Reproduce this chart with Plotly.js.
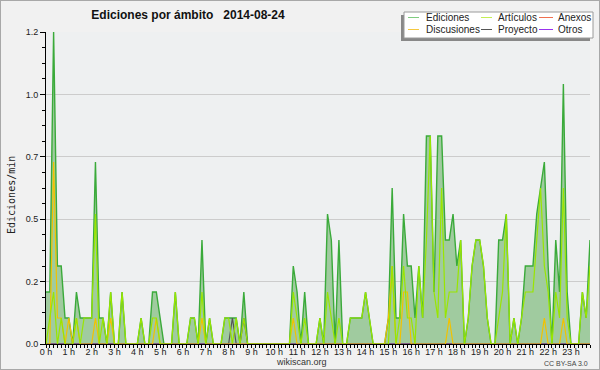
<!DOCTYPE html>
<html><head><meta charset="utf-8">
<script src="https://cdn.plot.ly/plotly-3.0.1.min.js"></script>
<style>
body{margin:0;background:#f1f1f1}
#wrap{position:relative;width:600px;height:370px}
#chart{width:600px;height:370px}
#frame{position:absolute;left:0;top:0;width:600px;height:370px;box-sizing:border-box;border:1px solid #a8a8a8;pointer-events:none}
</style>
</head><body><div id="wrap"><div id="chart"></div><div id="frame"></div></div>
<script>
// 10-minute bins (144 per day), edits per minute
const ediciones = [
 0.2,0.2,1.2,0.3,0.3,0.1,0.1,0,0.2,0.1,0.1,0.1,
 0.1,0.7,0.1,0.1,0,0.2,0,0,0.2,0,0,0,
 0,0.1,0,0,0.2,0.2,0.1,0,0,0,0.2,0,
 0,0,0.1,0.1,0,0.4,0,0.1,0,0,0,0.1,
 0.1,0.1,0.1,0,0.2,0,0,0,0,0,0,0,
 0,0,0,0,0,0.3,0.2,0,0.2,0,0,0,
 0.1,0,0.5,0.4,0,0.4,0,0,0.1,0.1,0.1,0.1,
 0.2,0.1,0,0,0,0,0.1,0.6,0.1,0.1,0.5,0.3,
 0.3,0.1,0.3,0.1,0.8,0.8,0.2,0.8,0.8,0.4,0.4,0.5,
 0.3,0.4,0,0.1,0.3,0.4,0.4,0.3,0.1,0,0,0.4,
 0.4,0.5,0,0.1,0,0.1,0.3,0.3,0.3,0.5,0.6,0.7,
 0.3,0,0.4,0.2,1.0,0.2,0,0,0,0.2,0.1,0.4
];
const articulos = [
 0,0.1,0.2,0,0.1,0,0,0,0.1,0,0.1,0.1,
 0.1,0.5,0,0.1,0,0.2,0,0,0.2,0,0,0,
 0,0.1,0,0,0.1,0.1,0,0,0,0,0.2,0,
 0,0,0.1,0.1,0,0.2,0,0.1,0,0,0,0.1,
 0.1,0,0.1,0,0.1,0,0,0,0,0,0,0,
 0,0,0,0,0,0.2,0.1,0,0.1,0,0,0,
 0.1,0,0.2,0.1,0,0.1,0,0,0.1,0.1,0.1,0.1,
 0.2,0.1,0,0,0,0,0,0.3,0,0.1,0.3,0.1,
 0.1,0,0.3,0.1,0.4,0.8,0.2,0.1,0.6,0.1,0.2,0.2,
 0.2,0.4,0,0.1,0.3,0.4,0.4,0.3,0.1,0,0,0.1,
 0.2,0.5,0,0.1,0,0.1,0.2,0.2,0.2,0.4,0.6,0.3,
 0.2,0,0.2,0.1,0.6,0.1,0,0,0,0.2,0.1,0.3
];
const discusiones = [
 0,0,0.7,0.1,0.1,0,0.1,0,0.1,0,0,0,
 0,0.1,0,0,0,0.1,0,0,0,0,0,0,
 0,0,0,0,0,0.1,0,0,0,0,0,0,
 0,0,0,0,0,0.1,0,0,0,0,0,0,
 0,0,0,0,0,0,0,0,0,0,0,0,
 0,0,0,0,0,0.1,0,0,0,0,0,0,
 0,0,0,0,0,0,0,0,0,0,0,0,
 0,0,0,0,0,0,0.1,0.3,0,0,0.2,0.2,
 0,0,0,0,0,0,0,0,0,0,0.1,0,
 0,0,0,0,0,0,0,0,0,0,0,0,
 0,0,0,0,0,0,0,0,0,0,0,0.1,
 0,0,0,0,0.1,0,0,0,0,0,0,0
];
const proyecto = [
 0,0,0,0,0,0,0,0,0,0,0,0,
 0,0,0,0,0,0,0,0,0,0,0,0,
 0,0,0,0,0,0,0,0,0,0,0,0,
 0,0,0,0,0,0,0,0,0,0,0,0,
 0,0.1,0,0,0.1,0,0,0,0,0,0,0,
 0,0,0,0,0,0,0,0,0,0,0,0,
 0,0,0,0,0,0,0,0,0,0,0,0,
 0,0,0,0,0,0,0,0,0,0,0,0,
 0,0,0,0,0,0,0,0,0,0,0,0,
 0,0,0,0,0,0,0,0,0,0,0,0,
 0,0,0,0,0,0,0,0,0,0,0,0,
 0,0,0,0,0,0,0,0,0,0,0,0
];
const anexos = new Array(144).fill(0);
const otros = new Array(144).fill(0);

const hourTicks = [0,1,2,3,4,5,6,7,8,9,10,11,12,13,14,15,16,17,18,19,20,21,22,23];
const hourLabels = hourTicks.map(h => h + ' h');
const yTickVals = [0,0.24,0.48,0.72,0.96,1.2];
const yTickText = ['0.0','0.2','0.5','0.7','1.0','1.2'];

const legendNames = [['Ediciones','Artículos','Anexos'],['Discusiones','Proyecto','Otros']];
const colors = {
  'Ediciones':'#3aaa3a','Artículos':'#99e600','Anexos':'#f07050',
  'Discusiones':'#f2c200','Proyecto':'#555555','Otros':'#9933ee'
};
const legendLineColors = {
  'Ediciones':'#7fcc7f','Artículos':'#c4ee55','Anexos':'#f07050',
  'Discusiones':'#f5c840','Proyecto':'#555555','Otros':'#9933ee'
};

const hours = ediciones.map((_, i) => i / 6);

function lineTrace(name, ys, width) {
  return {x: hours, y: ys, name: name, type: 'scatter', mode: 'lines',
          line: {color: colors[name], width: width || 1.2}, hoverinfo: 'skip'};
}
const traces = [
  Object.assign(lineTrace('Ediciones', ediciones, 1.4), {fill: 'tozeroy', fillcolor: '#a0cb9f'}),
  lineTrace('Anexos', anexos),
  lineTrace('Otros', otros),
  lineTrace('Proyecto', proyecto),
  lineTrace('Discusiones', discusiones),
  lineTrace('Artículos', articulos)
];

// pixel -> paper helpers (plot area: x 46..590, y 32..344)
const PX = p => (p - 46) / 544;
const PY = p => (344 - p) / 312;

const shapes = [
  {type:'rect', xref:'paper', yref:'paper', x0:PX(401), x1:PX(590), y0:PY(41), y1:PY(15), fillcolor:'#888888', line:{width:0}},
  {type:'rect', xref:'paper', yref:'paper', x0:PX(404), x1:PX(593), y0:PY(38), y1:PY(12), fillcolor:'#ffffff', line:{color:'#9a9a9a', width:1}}
];
const annotations = [];
const colLine = [[408,419],[481,492],[539,553]];
const colText = [424,496,556];
const rowY = [17.5,29.5];
legendNames.forEach((row, r) => row.forEach((name, c) => {
  shapes.push({type:'line', xref:'paper', yref:'paper', x0:PX(colLine[c][0]), x1:PX(colLine[c][1]),
               y0:PY(rowY[r]), y1:PY(rowY[r]), line:{color:legendLineColors[name], width:1}});
  annotations.push({text:name, xref:'paper', yref:'paper', x:PX(colText[c]), y:PY(rowY[r]),
                    xanchor:'left', yanchor:'middle', showarrow:false,
                    font:{family:'Liberation Sans, Arial, sans-serif', size:10, color:'#222'}});
}));
annotations.push({text:'Ediciones/min', xref:'paper', yref:'paper', x:PX(12), y:PY(195),
  xanchor:'center', yanchor:'middle', textangle:-90, showarrow:false,
  font:{family:'DejaVu Sans Mono, monospace', size:10, color:'#222'}});
annotations.push({text:'wikiscan.org', xref:'paper', yref:'paper', x:PX(301), y:PY(362),
  xanchor:'center', yanchor:'middle', showarrow:false,
  font:{family:'Liberation Sans, Arial, sans-serif', size:9, color:'#333'}});
annotations.push({text:'CC BY-SA 3.0', xref:'paper', yref:'paper', x:PX(590), y:PY(363),
  xanchor:'right', yanchor:'middle', showarrow:false,
  font:{family:'Liberation Sans, Arial, sans-serif', size:7, color:'#444'}});

const layout = {
  width: 600, height: 370,
  margin: {l:46, r:10, t:32, b:26, pad:0},
  paper_bgcolor: '#f1f1f1', plot_bgcolor: '#eef0f1',
  showlegend: false,
  title: {text:'<b>Ediciones por ámbito\u00a0\u00a0\u00a02014-08-24</b>', xref:'container', yref:'container',
          x: 188/600, y: 1 - 15/370, xanchor:'center', yanchor:'middle',
          font:{family:'Liberation Sans, Arial, sans-serif', size:12, color:'#111'}},
  xaxis: {range:[0, 143/6], tickmode:'array', tickvals:hourTicks, ticktext:hourLabels,
          ticks:'outside', ticklen:3, tickwidth:1, tickcolor:'#000', ticklabelstandoff:-4,
          showline:true, linecolor:'#000', linewidth:1, showgrid:false, zeroline:false,
          minor:{tickmode:'linear', tick0:0, dtick:1/6, ticks:'outside', ticklen:3, tickcolor:'#000', showgrid:false},
          tickfont:{family:'Liberation Sans, Arial, sans-serif', size:9, color:'#222'}, fixedrange:true},
  yaxis: {range:[0, 1.2], tickmode:'array', tickvals:yTickVals, ticktext:yTickText,
          ticks:'outside', ticklen:5, tickwidth:1, tickcolor:'#000',
          showline:true, linecolor:'#000', linewidth:1, showgrid:true, gridcolor:'#cccccc', gridwidth:1, zeroline:false,
          minor:{tickmode:'linear', tick0:0, dtick:0.06, ticks:'outside', ticklen:3, tickcolor:'#000', showgrid:false},
          tickfont:{family:'Liberation Sans, Arial, sans-serif', size:9, color:'#222'}, fixedrange:true},
  shapes: shapes,
  annotations: annotations
};
Plotly.newPlot('chart', traces, layout, {displayModeBar:false, staticPlot:true});
</script></body></html>
